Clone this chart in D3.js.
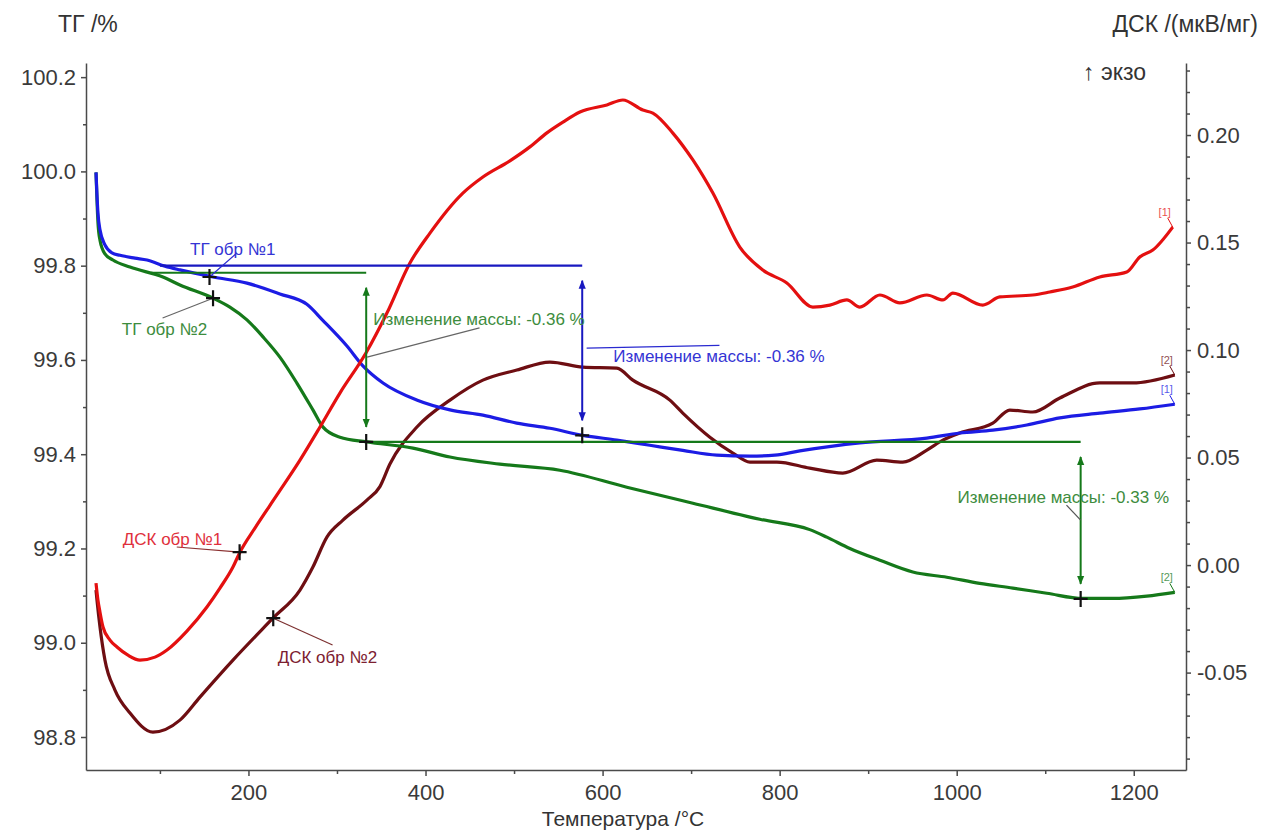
<!DOCTYPE html>
<html lang="ru">
<head>
  <meta charset="UTF-8">
  <title>ТГ / ДСК</title>
  <script src="https://d3js.org/d3.v7.min.js"></script>
  <style>
    body {
      background: #fff;
      margin: 0;
    }
    text {
      font-family: "Liberation Sans", Arial, sans-serif;
    }
    .axis .tick text {
      fill: #3a3a3a;
      font-size: 22px;
    }
    .axis path, .axis line {
      stroke: #4a4a4a;
      stroke-width: 1.5;
    }
    .title {
      fill: #333;
    }
    .note {
      font-size: 17px;
    }
    .tag {
      font-size: 11px;
    }
  </style>
</head>
<body>
  <script>
    // ТГ обр №1 (blue), %
    var tg1T = [27.8, 28.9, 30, 32.3, 37.9, 45.9, 54.9, 71.8, 85.4, 105.7, 122.6, 160, 198.3, 235.5, 266, 284, 311, 329, 352, 390, 427.6, 464.8, 503, 540.5, 577.7, 616, 653.4, 690.6, 729, 766.4, 794.6, 822.8, 890.6, 966.3, 1003.5, 1040.8, 1079.2, 1116.5, 1161.6, 1206.8, 1246.3];
    var tg1 = [99.998, 99.950, 99.912, 99.876, 99.844, 99.827, 99.822, 99.816, 99.812, 99.799, 99.791, 99.776, 99.763, 99.740, 99.718, 99.684, 99.630, 99.588, 99.551, 99.515, 99.494, 99.483, 99.466, 99.455, 99.440, 99.430, 99.419, 99.408, 99.398, 99.396, 99.398, 99.407, 99.424, 99.434, 99.445, 99.451, 99.462, 99.477, 99.487, 99.496, 99.506];

    // ТГ обр №2 (green), %
    var tg2T = [27.8, 28.9, 30, 32.3, 37.9, 46.9, 66.2, 103.4, 122.6, 160, 179, 198.3, 216.4, 235.5, 254.7, 272.8, 284, 303.3, 333.8, 385.8, 427.6, 484, 551.7, 627.4, 702, 777.6, 834, 853.3, 879.3, 913.2, 950.4, 988.8, 1026, 1063.4, 1101.8, 1142.4, 1176.3, 1214.7, 1246.3];
    var tg2 = [99.998, 99.939, 99.892, 99.854, 99.825, 99.812, 99.797, 99.776, 99.759, 99.731, 99.712, 99.685, 99.649, 99.606, 99.551, 99.494, 99.458, 99.436, 99.426, 99.413, 99.394, 99.379, 99.366, 99.330, 99.296, 99.262, 99.240, 99.224, 99.200, 99.175, 99.150, 99.139, 99.126, 99.116, 99.105, 99.094, 99.094, 99.099, 99.107];

    // ДСК обр №1 (red), мкВ/мг
    var dsc1T = [27.8, 30, 32.3, 35.7, 43.6, 51.5, 63.9, 77.5, 94.4, 108, 130.5, 153.1, 167.8, 182.5, 190.4, 207.3, 232.2, 258.2, 280.8, 303.3, 332.7, 356.4, 382.4, 405, 442.2, 464.8, 495.3, 517.9, 537.1, 555.2, 574.4, 604.9, 622.9, 645.5, 656.8, 679.4, 702, 724.6, 755, 781, 808.1, 837.5, 856.7, 875.9, 890.6, 913.2, 935.8, 966.3, 984.4, 995.6, 1029.5, 1048.7, 1085.9, 1105.1, 1131, 1161.6, 1192.1, 1206.8, 1221.5, 1244];
    var dsc1 = [-0.0084, -0.0163, -0.0219, -0.0288, -0.0349, -0.0381, -0.0419, -0.0442, -0.0428, -0.0395, -0.0307, -0.0195, -0.0107, -0.0009, 0.0060, 0.0172, 0.0326, 0.0488, 0.0642, 0.0800, 0.0986, 0.1172, 0.1405, 0.1544, 0.1730, 0.1805, 0.1880, 0.1945, 0.2010, 0.2060, 0.2107, 0.2140, 0.2163, 0.2116, 0.2102, 0.2009, 0.1884, 0.1730, 0.1479, 0.1372, 0.1312, 0.1200, 0.1209, 0.1233, 0.1200, 0.1256, 0.1219, 0.1256, 0.1233, 0.1265, 0.1209, 0.1247, 0.1256, 0.1270, 0.1293, 0.1340, 0.1363, 0.1433, 0.1465, 0.1572];

    // ДСК обр №2 (dark red), мкВ/мг
    var dsc2T = [27.8, 28.9, 32.3, 37.9, 49.2, 66.2, 92.1, 122.6, 145.2, 182.5, 227.6, 258.2, 272.8, 288.6, 306.7, 333.8, 348.5, 359.8, 390.3, 427.6, 464.8, 503.2, 540.5, 577.7, 616.1, 634.2, 676, 690.6, 721.2, 747.2, 766.4, 796.9, 834, 871.3, 909.7, 939.1, 966.3, 984.4, 1003.5, 1040.8, 1059.9, 1085.9, 1116.5, 1161.6, 1198.9, 1246.3];
    var dsc2 = [-0.0116, -0.0163, -0.0288, -0.0442, -0.0581, -0.0688, -0.0777, -0.0721, -0.0614, -0.0442, -0.0247, -0.0116, -0.0009, 0.0130, 0.0209, 0.0302, 0.0365, 0.0470, 0.0642, 0.0767, 0.0860, 0.0907, 0.0944, 0.0921, 0.0916, 0.0860, 0.0767, 0.0707, 0.0595, 0.0521, 0.0479, 0.0479, 0.0451, 0.0428, 0.0488, 0.0479, 0.0535, 0.0581, 0.0614, 0.0660, 0.0721, 0.0712, 0.0777, 0.0847, 0.0847, 0.0884];

    // mass change steps: start/end temperature of the level line, upper and lower level
    var stepT0 = [100, 90, 333];
    var stepT1 = [577, 333, 1140];
    var stepTop = [99.80, 99.785, 99.426];
    var stepBottom = [99.44, 99.426, 99.093];

    // marked points
    var tgCrossT = [156, 160, 333, 577, 1140];
    var tgCrossV = [99.776, 99.731, 99.426, 99.44, 99.093];
    var dscCrossT = [190, 228];
    var dscCrossV = [0.006, -0.0247];

    // ticks
    var xTicks = [200, 400, 600, 800, 1000, 1200];
    var tgTicks = [98.8, 99.0, 99.2, 99.4, 99.6, 99.8, 100.0, 100.2];
    var dscTicks = [-0.05, 0.00, 0.05, 0.10, 0.15, 0.20];

    var width = 1262, height = 832;
    var plotLeft = 86, plotRight = 1186, plotTop = 63, plotBottom = 770;

    var red = "#e41010", darkred = "#6e0e12", blue = "#1c1ce4", green = "#15791a";

    var svg = d3.select("body").append("svg")
      .attr("width", width)
      .attr("height", height);

    svg.append("rect")
      .attr("width", width)
      .attr("height", height)
      .attr("fill", "#fff");

    var x = d3.scaleLinear().domain([16.5, 1259]).range([plotLeft, plotRight]);
    var yTG = d3.scaleLinear().domain([98.73, 100.23]).range([plotBottom, plotTop]);
    var yDSC = d3.scaleLinear().domain([-0.0953, 0.2335]).range([plotBottom, plotTop]);

    // minor ticks
    svg.append("g")
      .attr("class", "axis")
      .attr("transform", "translate(0," + plotBottom + ")")
      .call(d3.axisBottom(x).tickValues(d3.range(100, 1300, 200)).tickSize(4).tickFormat(""))
      .call(function(g) { g.select(".domain").remove(); });

    svg.append("g")
      .attr("class", "axis")
      .attr("transform", "translate(" + plotLeft + ",0)")
      .call(d3.axisLeft(yTG).tickValues(d3.range(989, 1002, 2).map(function(i) { return i / 10; })).tickSize(3).tickFormat(""))
      .call(function(g) { g.select(".domain").remove(); });

    svg.append("g")
      .attr("class", "axis")
      .attr("transform", "translate(" + plotRight + ",0)")
      .call(d3.axisRight(yDSC).tickValues(d3.range(-9, 24).filter(function(i) { return i % 5 !== 0; }).map(function(i) { return i / 100; })).tickSize(4).tickFormat(""))
      .call(function(g) { g.select(".domain").remove(); });

    // main axes
    svg.append("g")
      .attr("class", "axis")
      .attr("transform", "translate(0," + plotBottom + ")")
      .call(d3.axisBottom(x).tickValues(xTicks).tickFormat(d3.format("d")).tickSize(6).tickSizeOuter(0).tickPadding(8));

    svg.append("g")
      .attr("class", "axis")
      .attr("transform", "translate(" + plotLeft + ",0)")
      .call(d3.axisLeft(yTG).tickValues(tgTicks).tickFormat(d3.format(".1f")).tickSize(5).tickSizeOuter(0).tickPadding(5));

    svg.append("g")
      .attr("class", "axis")
      .attr("transform", "translate(" + plotRight + ",0)")
      .call(d3.axisRight(yDSC).tickValues(dscTicks)
        .tickFormat(function(d) { return d3.format(".2f")(d).replace("\u2212", "-"); })
        .tickSize(5).tickSizeOuter(0).tickPadding(6));

    // titles
    svg.append("text")
      .classed("title", true)
      .attr("x", 58)
      .attr("y", 32)
      .style("font-size", "23px")
      .text("ТГ /%");

    svg.append("text")
      .classed("title", true)
      .attr("x", 1258)
      .attr("y", 32)
      .attr("text-anchor", "end")
      .style("font-size", "23px")
      .text("ДСК /(мкВ/мг)");

    svg.append("text")
      .classed("title", true)
      .attr("x", 623)
      .attr("y", 826)
      .attr("text-anchor", "middle")
      .style("font-size", "21px")
      .text("Температура /°C");

    svg.append("text")
      .classed("title", true)
      .attr("x", 1083)
      .attr("y", 80)
      .style("font-size", "23px")
      .text("↑ экзо");

    // curves
    var tgLine = d3.line()
      .x(function(d) { return x(d[0]); })
      .y(function(d) { return yTG(d[1]); })
      .curve(d3.curveMonotoneX);

    var dscLine = d3.line()
      .x(function(d) { return x(d[0]); })
      .y(function(d) { return yDSC(d[1]); })
      .curve(d3.curveMonotoneX);

    var series = [
      { pts: d3.zip(dsc2T, dsc2), line: dscLine, y: yDSC, color: darkred, tag: "[2]" },
      { pts: d3.zip(tg2T, tg2), line: tgLine, y: yTG, color: green, tag: "[2]" },
      { pts: d3.zip(tg1T, tg1), line: tgLine, y: yTG, color: blue, tag: "[1]" },
      { pts: d3.zip(dsc1T, dsc1), line: dscLine, y: yDSC, color: red, tag: "[1]" }
    ];

    series.forEach(function(s) {
      svg.append("path")
        .attr("d", s.line(s.pts))
        .attr("fill", "none")
        .attr("stroke", s.color)
        .attr("stroke-width", 3.2)
        .attr("stroke-linejoin", "round");

      var end = s.pts[s.pts.length - 1];
      var ex = x(end[0]);
      var ey = s.y(end[1]);
      svg.append("line")
        .attr("x1", ex - 5).attr("y1", ey - 9)
        .attr("x2", ex).attr("y2", ey)
        .attr("stroke", s.color)
        .attr("stroke-width", 1);
      svg.append("text")
        .classed("tag", true)
        .attr("x", ex - 8)
        .attr("y", ey - 11)
        .attr("text-anchor", "middle")
        .attr("fill", s.color)
        .attr("opacity", 0.75)
        .text(s.tag);
    });

    // arrow heads
    var defs = svg.append("defs");
    [["blue", "#1818c0"], ["green", green]].forEach(function(m) {
      defs.append("marker")
        .attr("id", "arr-" + m[0])
        .attr("viewBox", "0 0 10 10")
        .attr("refX", 9)
        .attr("refY", 5)
        .attr("markerWidth", 9)
        .attr("markerHeight", 9)
        .attr("markerUnits", "userSpaceOnUse")
        .attr("orient", "auto-start-reverse")
        .append("path")
        .attr("d", "M0,1L10,5L0,9Z")
        .attr("fill", m[1]);
    });

    // mass change steps
    var stepColor = ["#1818c0", green, green];
    var stepMarker = ["blue", "green", "green"];
    stepT0.forEach(function(t0, i) {
      svg.append("line")
        .attr("x1", x(t0)).attr("x2", x(stepT1[i]))
        .attr("y1", yTG(stepTop[i])).attr("y2", yTG(stepTop[i]))
        .attr("stroke", stepColor[i])
        .attr("stroke-width", 2.2);
      svg.append("line")
        .attr("x1", x(stepT1[i])).attr("x2", x(stepT1[i]))
        .attr("y1", yTG(stepTop[i]) + 15).attr("y2", yTG(stepBottom[i]) - 15)
        .attr("stroke", stepColor[i])
        .attr("stroke-width", 2)
        .attr("marker-start", "url(#arr-" + stepMarker[i] + ")")
        .attr("marker-end", "url(#arr-" + stepMarker[i] + ")");
    });

    // labels with leaders (text anchor and leader ends in data units)
    var notes = [
      { text: "ТГ обр №1", y: yTG, color: "#3434d4", lead: "#2a2ad0", at: [134, 99.823], from: [187, 99.827], to: [156, 99.776] },
      { text: "ТГ обр №2", y: yTG, color: "#3d8c3d", lead: "#666", at: [57, 99.653], from: [103, 99.689], to: [160, 99.731] },
      { text: "ДСК обр №1", y: yDSC, color: "#e0303c", lead: "#8a3030", at: [58, 0.0093], from: [119, 0.0084], to: [190, 0.006] },
      { text: "ДСК обр №2", y: yDSC, color: "#7c2030", lead: "#7c3030", at: [233, -0.0456], from: [295, -0.0372], to: [228, -0.0247] },
      { text: "Изменение массы: -0.36 %", y: yTG, color: "#3d8c3d", lead: "#666", at: [341, 99.674], from: [461, 99.668], to: [334, 99.606] },
      { text: "Изменение массы: -0.36 %", y: yTG, color: "#3434d4", lead: "#2a2ad0", at: [612, 99.595], from: [732, 99.631], to: [582, 99.625] },
      { text: "Изменение массы: -0.33 %", y: yTG, color: "#3d8c3d", lead: "#555", at: [1001, 99.296], from: [1124, 99.292], to: [1140, 99.26] }
    ];

    notes.forEach(function(n) {
      svg.append("line")
        .attr("x1", x(n.from[0])).attr("y1", n.y(n.from[1]))
        .attr("x2", x(n.to[0])).attr("y2", n.y(n.to[1]))
        .attr("stroke", n.lead)
        .attr("stroke-width", 1.2);
      svg.append("text")
        .classed("note", true)
        .attr("x", x(n.at[0]))
        .attr("y", n.y(n.at[1]))
        .attr("fill", n.color)
        .text(n.text);
    });

    // crosses
    var crosses = d3.zip(tgCrossT, tgCrossV).map(function(d) { return [x(d[0]), yTG(d[1])]; })
      .concat(d3.zip(dscCrossT, dscCrossV).map(function(d) { return [x(d[0]), yDSC(d[1])]; }));

    svg.selectAll(".cross")
      .data(crosses)
      .enter()
      .append("path")
      .classed("cross", true)
      .attr("d", function(d) {
        return "M" + (d[0] - 7) + "," + d[1] + "H" + (d[0] + 7) + "M" + d[0] + "," + (d[1] - 8) + "V" + (d[1] + 8);
      })
      .attr("stroke", "#111")
      .attr("stroke-width", 2.2);
  </script>
</body>
</html>
